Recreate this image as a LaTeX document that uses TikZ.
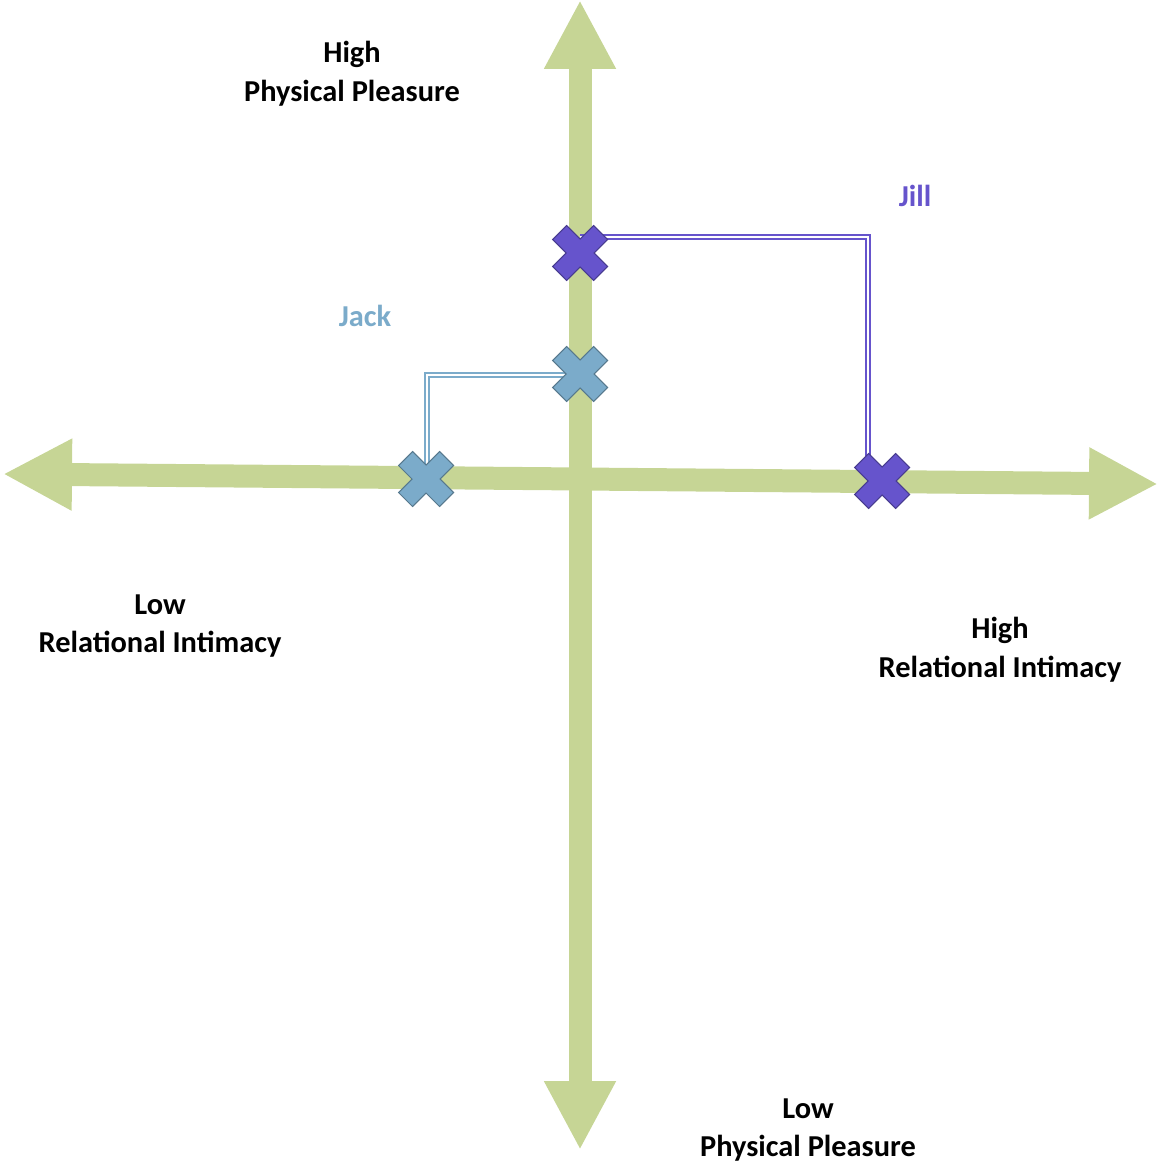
\documentclass[tikz,border=0pt]{standalone}
\usepackage{fontspec}
\setmainfont{Carlito}
\usetikzlibrary{arrows.meta,calc}
\definecolor{axiscolor}{HTML}{C6D595}
\definecolor{jillcolor}{HTML}{6654CC}
\definecolor{jackcolor}{HTML}{7BABCA}
\tikzset{%
  xmark/.pic={\filldraw[fill=#1, draw=#1!70!black, line width=0.6pt] (0,14) -- (13.5,27.5) -- (27.5,13.5) -- (14,0) -- (27.5,-13.5) -- (13.5,-27.5) -- (0,-14) -- (-13.5,-27.5) -- (-27.5,-13.5) -- (-14,0) -- (-27.5,13.5) -- (-13.5,27.5) -- cycle;},
  axistext/.style={align=center, inner sep=0pt, font=\bfseries\fontsize{17.3}{22.1}\selectfont},
  axisline/.style={draw=axiscolor, line width=0.46cm, {Triangle[length=1.38cm, width=1.34cm]}-{Triangle[length=1.38cm, width=1.34cm]}},
  pathline/.style={draw=#1, line width=0.9pt, double=white, double distance=1.6pt}
}

\begin{document}
\begin{tikzpicture}[x=0.02cm, y=-0.02cm]%
\useasboundingbox (0,0) rectangle (1159,1172);%
\coordinate (north) at (580,0);%
\coordinate (south) at (580,1150);%
\coordinate (west) at (3,474);%
\coordinate (east) at (1158,484);%
\coordinate (jilltop) at (580,253);%
\coordinate (jackmid) at (580,374);%
\coordinate (jackleft) at (426,479);%
\coordinate (jillright) at (882,481);%
\draw[axisline] (north) -- (south);%
\draw[axisline] (west) -- (east);%
\draw[pathline=jillcolor] (jilltop) ++(0,-16) -| ($(jillright)+(-14,-10)$);%
\draw[pathline=jackcolor] (jackmid) ++(-5,1) -| ($(jackleft)+(1,-12)$);%
\pic at (jilltop) {xmark=jillcolor};%
\pic at (jackmid) {xmark=jackcolor};%
\pic at (jackleft) {xmark=jackcolor};%
\pic at (jillright) {xmark=jillcolor};%
\node[axistext] (highpp) at (352,74) {High\\Physical Pleasure};%
\node[axistext] (lowpp) at (808,1130) {Low\\Physical Pleasure};%
\node[axistext] (lowri) at (160,626) {Low\\Relational Intimacy};%
\node[axistext] (highri) at (1000,650) {High\\Relational Intimacy};%
\node[axistext, text=jillcolor] (jill) at (915,196) {Jill};%
\node[axistext, text=jackcolor] (jack) at (365,316) {Jack};%
\end{tikzpicture}
\end{document}
